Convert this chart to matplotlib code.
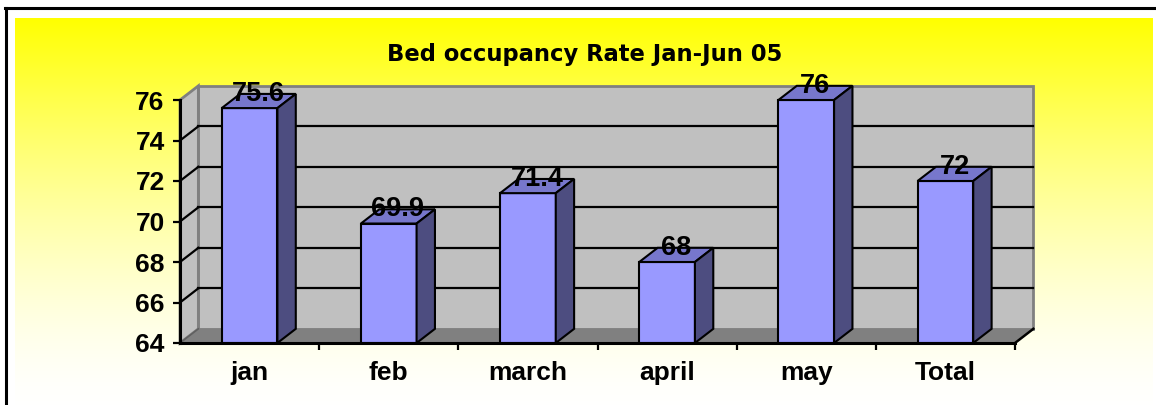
import numpy as np
import matplotlib
matplotlib.use("Agg")
import matplotlib.pyplot as plt
from matplotlib.patches import Polygon

categories = ["jan", "feb", "march", "april", "may", "Total"]
values = [75.6, 69.9, 71.4, 68, 76, 72]
value_labels = ["75.6", "69.9", "71.4", "68", "76", "72"]
yticks = [64, 66, 68, 70, 72, 74, 76]
title = "Bed occupancy Rate Jan-Jun 05"

W, H = 1156, 405
fig = plt.figure(figsize=(W / 100, H / 100), dpi=100)
fig.patch.set_facecolor("white")

# gradient background
bg = fig.add_axes([15 / W, 0, (1153 - 15) / W, (H - 18) / H])
bg.set_axis_off()
t = np.linspace(0, 1, 400)
blue = 1 - (1 - t * 0.985) ** 1.5
img = np.zeros((400, 1, 3))
img[:, 0, 0] = 1
img[:, 0, 1] = 1
img[:, 0, 2] = blue
bg.imshow(img, aspect="auto", extent=[0, 1, 0, 1], origin="upper")
bg.set_xlim(0, 1)
bg.set_ylim(0, 1)

# outer border
fig.add_artist(plt.Line2D([5 / W, 1.0], [1 - 7.5 / H, 1 - 7.5 / H], color="black", lw=2.2, transform=fig.transFigure))
fig.add_artist(plt.Line2D([6 / W, 6 / W], [0, 1 - 7.5 / H], color="black", lw=2.2, transform=fig.transFigure))

ax = fig.add_axes([180 / W, (H - 343) / H, (1015 - 180) / W, (343 - 100) / H])
ax.set_facecolor("none")
n = len(categories)
x0, x1 = -0.5, n - 0.5
y0, y1 = yticks[0], yticks[-1]
ax.set_xlim(x0, x1)
ax.set_ylim(y0, y1)
for s in ax.spines.values():
    s.set_visible(False)

dx = 0.132   # depth offset in category units
dy = 0.70    # depth offset in value units
wall_c = "#C0C0C0"
floor_c = "#808080"
edge_gray = "#808080"

# back wall
ax.add_patch(Polygon([(x0 + dx, y0 + dy), (x1 + dx, y0 + dy), (x1 + dx, y1 + dy), (x0 + dx, y1 + dy)],
                     closed=True, facecolor=wall_c, edgecolor=edge_gray, lw=2.0, clip_on=False, zorder=1))
# side wall
ax.add_patch(Polygon([(x0, y0), (x0 + dx, y0 + dy), (x0 + dx, y1 + dy), (x0, y1)],
                     closed=True, facecolor=wall_c, edgecolor=edge_gray, lw=2.0, clip_on=False, zorder=1))
# gridlines
for v in yticks[1:-1]:
    ax.plot([x0 + dx, x1 + dx], [v + dy, v + dy], color="black", lw=1.6, clip_on=False, zorder=2)
    ax.plot([x0, x0 + dx], [v, v + dy], color="black", lw=1.6, clip_on=False, zorder=2)
# floor
ax.add_patch(Polygon([(x0, y0), (x1, y0), (x1 + dx, y0 + dy), (x0 + dx, y0 + dy)],
                     closed=True, facecolor=floor_c, edgecolor="none", clip_on=False, zorder=2))
ax.plot([x1, x1 + dx], [y0, y0 + dy], color="black", lw=1.8, clip_on=False, zorder=2)
ax.plot([x0, x0 + dx], [y0, y0 + dy], color="#606060", lw=1.2, clip_on=False, zorder=2)

# bars
bw = 0.2
front_c = "#9999FF"
top_c = "#7777CC"
side_c = "#4D4D80"
for i, v in enumerate(values):
    a, b = i - bw, i + bw
    ax.add_patch(Polygon([(a, y0), (b, y0), (b, v), (a, v)], closed=True,
                         facecolor=front_c, edgecolor="black", lw=1.5, clip_on=False, zorder=3))
    ax.add_patch(Polygon([(a, v), (b, v), (b + dx, v + dy), (a + dx, v + dy)], closed=True,
                         facecolor=top_c, edgecolor="black", lw=1.5, clip_on=False, zorder=3))
    ax.add_patch(Polygon([(b, y0), (b + dx, y0 + dy), (b + dx, v + dy), (b, v)], closed=True,
                         facecolor=side_c, edgecolor="black", lw=1.5, clip_on=False, zorder=3))
    ax.text(i + dx / 2, v + dy, value_labels[i], ha="center", va="center",
            fontsize=19.5, fontweight="bold", family="Liberation Sans", zorder=5)

# axes lines
ax.plot([x0, x1], [y0, y0], color="black", lw=2.2, clip_on=False, zorder=4)
ax.plot([x0, x0], [y0, y1], color="black", lw=2.2, clip_on=False, zorder=4)

ax.set_yticks(yticks)
ax.set_yticklabels([str(v) for v in yticks], fontsize=19, fontweight="bold", family="Liberation Sans")
ax.tick_params(axis="y", direction="out", length=5, width=1.6, pad=6, color="black")
ax.set_xticks(np.arange(n) + 0.5)
ax.set_xticklabels([])
ax.set_xticks(np.arange(n), minor=True)
ax.set_xticklabels(categories, minor=True, fontsize=19, fontweight="bold", family="Liberation Sans")
ax.tick_params(axis="x", which="major", direction="out", length=5, width=1.6, color="black")
ax.tick_params(axis="x", which="minor", length=0, pad=13)

fig.text(585 / W, 1 - 54 / H, title, ha="center", va="center", fontsize=16.3,
         fontweight="bold", family="DejaVu Sans")

fig.savefig("out.png", dpi=100)
